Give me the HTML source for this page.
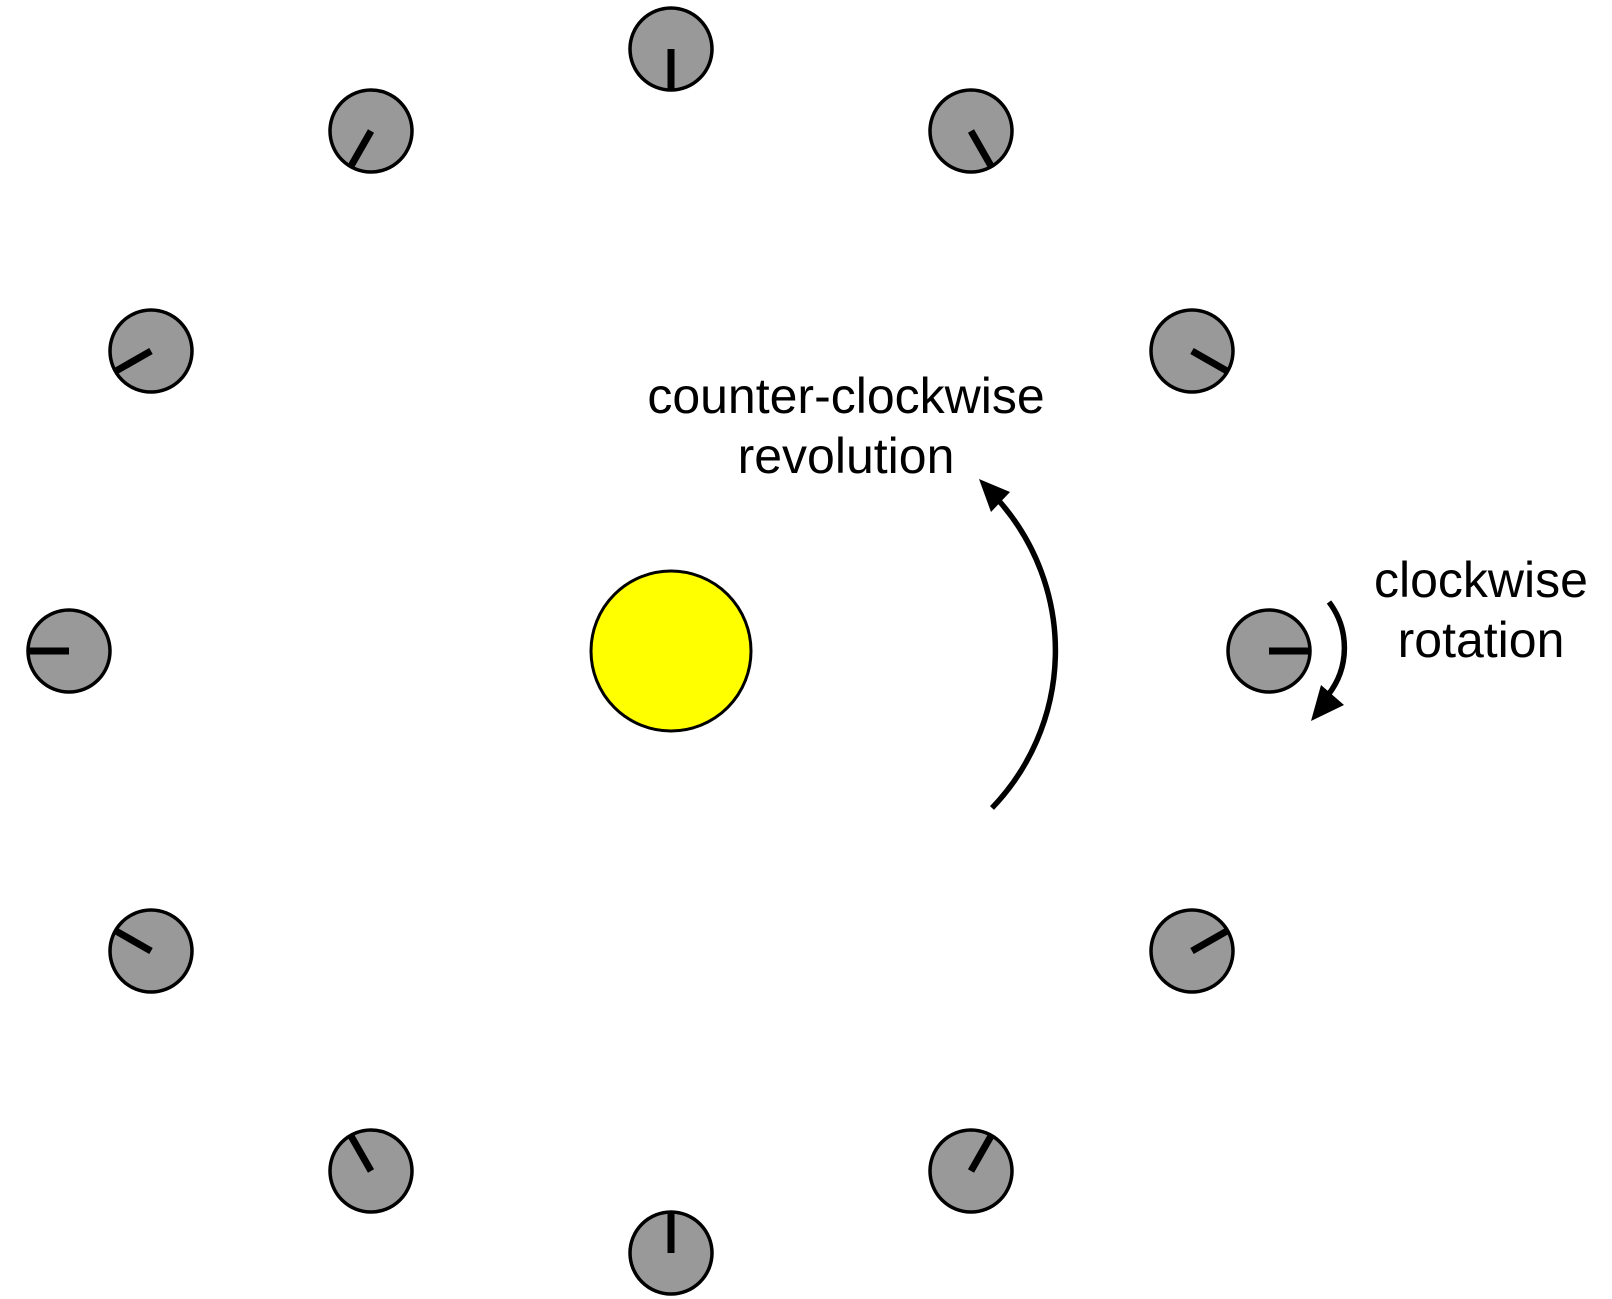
<!DOCTYPE html>
<html><head><meta charset="utf-8"><style>html,body{margin:0;padding:0;background:#fff}svg{display:block}</style></head>
<body>
<svg width="1612" height="1299" viewBox="0 0 1612 1299" xmlns="http://www.w3.org/2000/svg">
<g transform="translate(-2,-3)">
<circle cx="673" cy="654" r="80" fill="#ffff00" stroke="#000" stroke-width="3"/>
<g fill="#999" stroke="#000">
  <circle cx="1271" cy="654" r="41" stroke-width="3.5"/><line x1="1271" y1="654" x2="1311" y2="654" stroke-width="7"/>
  <circle cx="1194" cy="354" r="41" stroke-width="3.5"/><line x1="1194" y1="354" x2="1229" y2="374" stroke-width="7"/>
  <circle cx="973" cy="134" r="41" stroke-width="3.5"/><line x1="973" y1="134" x2="993" y2="169" stroke-width="7"/>
  <circle cx="673" cy="52" r="41" stroke-width="3.5"/><line x1="673" y1="52" x2="673" y2="92" stroke-width="7"/>
  <circle cx="373" cy="134" r="41" stroke-width="3.5"/><line x1="373" y1="134" x2="353" y2="169" stroke-width="7"/>
  <circle cx="153" cy="354" r="41" stroke-width="3.5"/><line x1="153" y1="354" x2="118" y2="374" stroke-width="7"/>
  <circle cx="71" cy="654" r="41" stroke-width="3.5"/><line x1="71" y1="654" x2="31" y2="654" stroke-width="7"/>
  <circle cx="153" cy="954" r="41" stroke-width="3.5"/><line x1="153" y1="954" x2="118" y2="934" stroke-width="7"/>
  <circle cx="373" cy="1174" r="41" stroke-width="3.5"/><line x1="373" y1="1174" x2="353" y2="1139" stroke-width="7"/>
  <circle cx="673" cy="1256" r="41" stroke-width="3.5"/><line x1="673" y1="1256" x2="673" y2="1216" stroke-width="7"/>
  <circle cx="973" cy="1174" r="41" stroke-width="3.5"/><line x1="973" y1="1174" x2="993" y2="1139" stroke-width="7"/>
  <circle cx="1194" cy="954" r="41" stroke-width="3.5"/><line x1="1194" y1="954" x2="1229" y2="934" stroke-width="7"/>
</g>
<path d="M 994 811 A 227 227 0 0 0 1002 505" fill="none" stroke="#000" stroke-width="5.5"/>
<polygon points="981,482 1012,495 993,515" fill="#000"/>
<path d="M 1331 605 A 76 76 0 0 1 1330 698" fill="none" stroke="#000" stroke-width="5.5"/>
<polygon points="1313,724 1323,688 1346,708" fill="#000"/>
<g font-family="Liberation Sans, Helvetica, Arial, sans-serif" font-size="50" text-anchor="middle" fill="#000">
<text x="848" y="416">counter-clockwise</text>
<text x="848" y="476">revolution</text>
<text x="1483" y="600">clockwise</text>
<text x="1483" y="660">rotation</text>
</g>
</g>
</svg>
</body></html>
